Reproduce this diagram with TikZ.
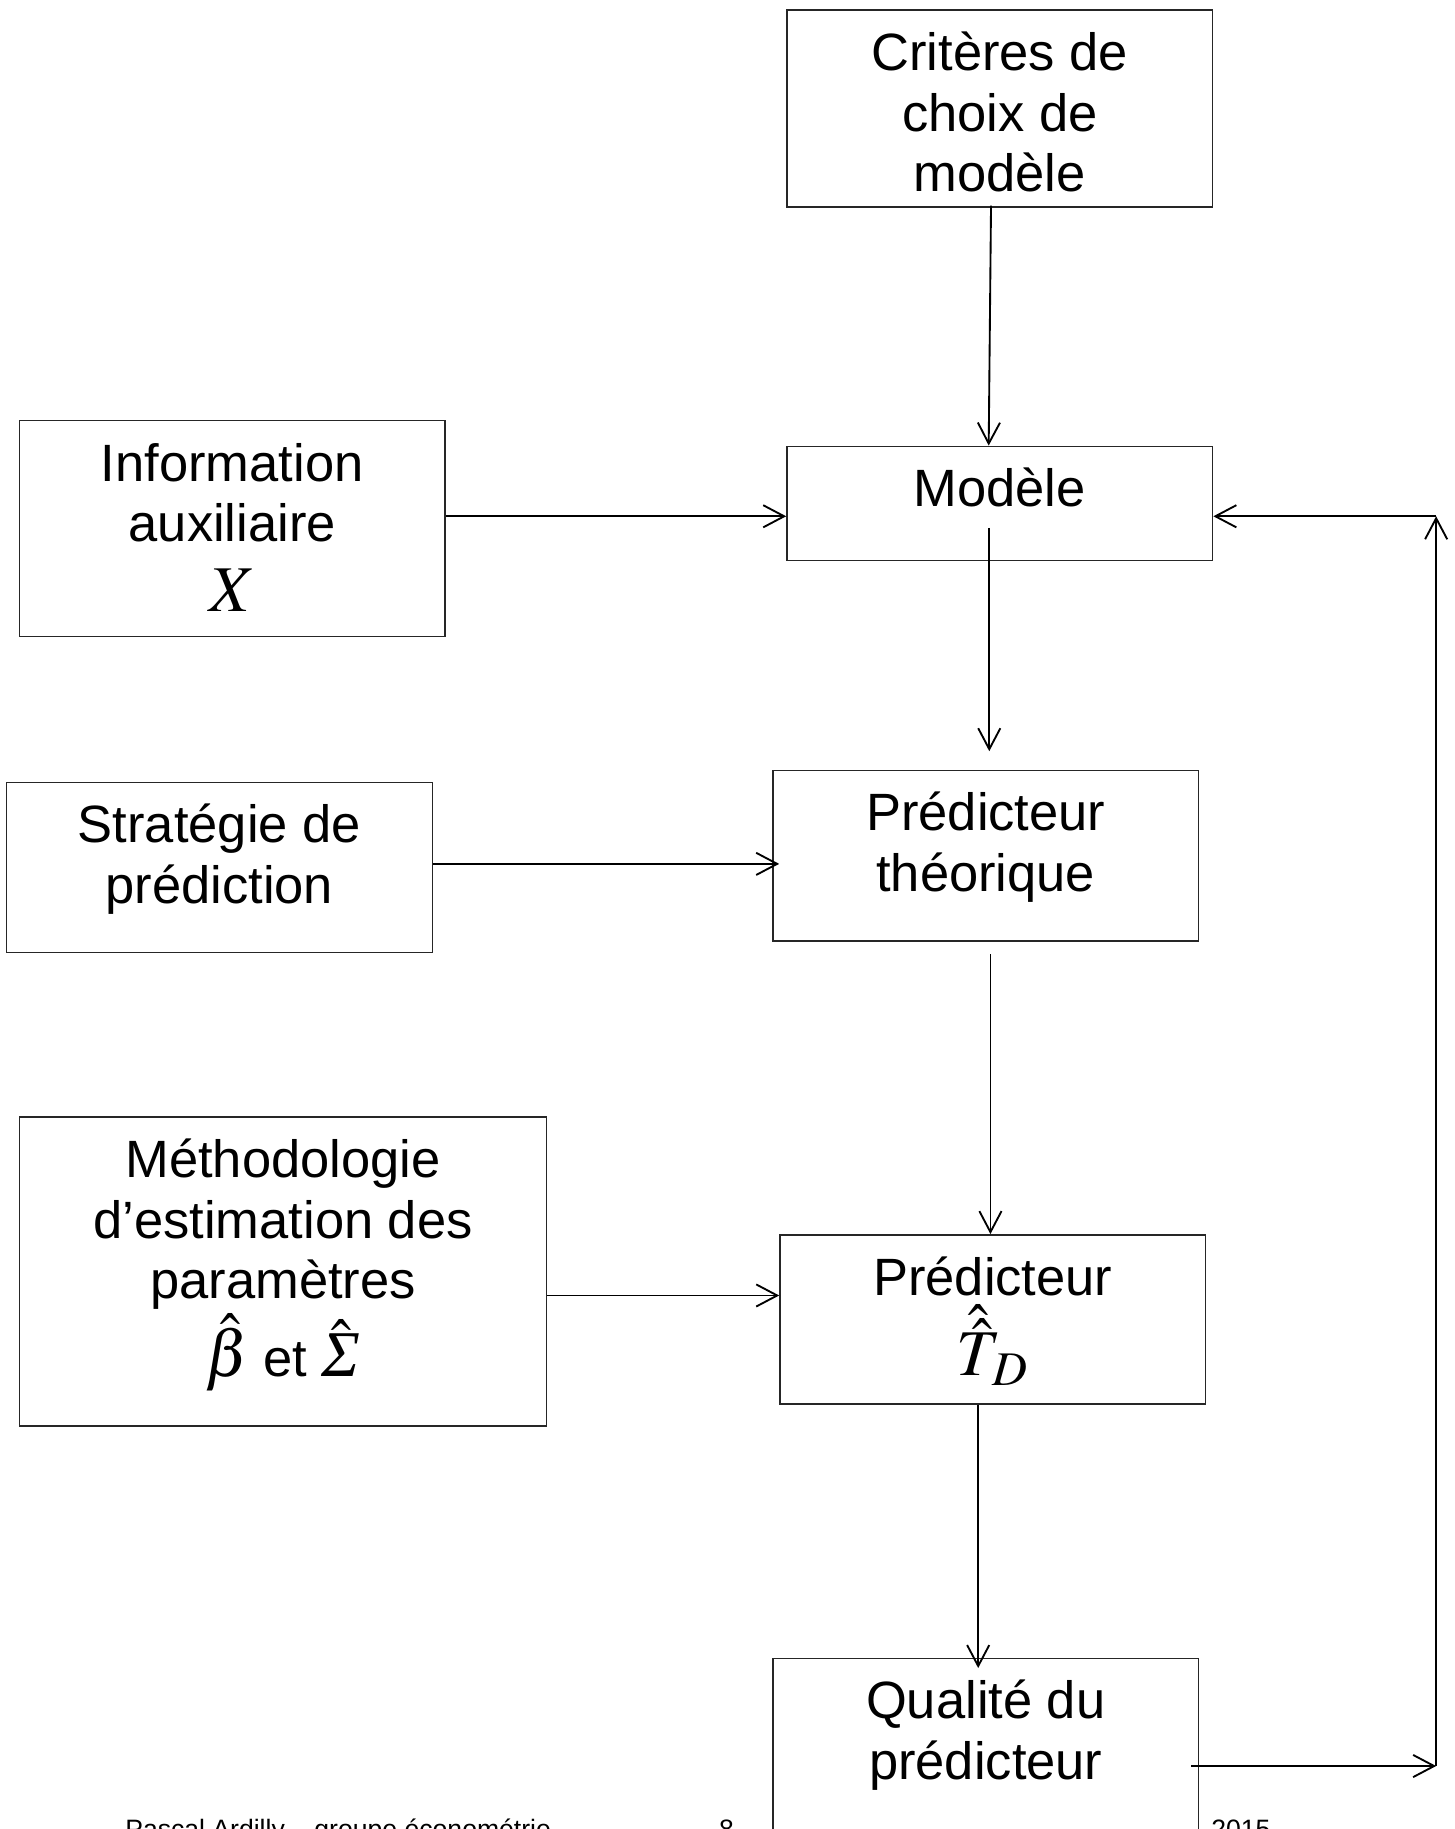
\documentclass[tikz,border=0pt]{standalone}
\usepackage{mathptmx}
\usepackage[no-math]{fontspec}
\setmainfont{Liberation Sans}
\newfontfamily\myserif{Liberation Serif}
\usetikzlibrary{arrows.meta,calc}
\newcommand\mybigmath[1]{{\fontsize{28}{30}\selectfont$#1$}}
\newcommand\mytxtfont{\fontsize{22.5}{26}\selectfont\lineskiplimit=-100pt\relax}
\newcommand\myfootfont{\fontsize{11.4}{13}\selectfont}
\begin{document}
\begin{tikzpicture}[x=0.5pt,y=-0.5pt,
  boxnode/.style={draw=black!85,line width=0.6pt,fill=white,rectangle,inner sep=0pt,anchor=north west},
  txt/.style={anchor=north,inner sep=0pt,align=center,font=\mytxtfont},
  arr/.style={line width=0.8pt,-{Straight Barb[length=9pt,width=9.5pt,line width=0.8pt]}},
  foot/.style={anchor=base west,inner sep=0pt,font=\myfootfont}]
\path[use as bounding box,fill=white] (0,0) rectangle (1247,1568);
% footer
\node[foot] (f1) at (107,1576) {Pascal Ardilly – groupe économétrie};
\node[foot] (f2) at (616,1576) {8};
\node[foot] (f3) at (1038,1576) {2015};
% boxes
\node[boxnode,minimum width=182.5pt,minimum height=84.5pt] (crit) at (674,8) {};
\node[boxnode,minimum width=182.5pt,minimum height=49pt] (model) at (674,382) {};
\node[boxnode,minimum width=182.5pt,minimum height=92.5pt] (info) at (16,360) {};
\node[boxnode,minimum width=182.5pt,minimum height=73pt] (ptheo) at (662,660) {};
\node[boxnode,minimum width=182.5pt,minimum height=73pt] (strat) at (5,670) {};
\node[boxnode,minimum width=226pt,minimum height=132.5pt] (meth) at (16,957) {};
\node[boxnode,minimum width=182.5pt,minimum height=72.5pt] (pred) at (668,1058) {};
\node[boxnode,minimum width=182.5pt,minimum height=100pt] (qual) at (662,1421) {};
% texts
\node[txt] (critT) at ([shift={(0,7)}]crit.north) {\rule{0pt}{22.5pt}Critères de\\choix de\\modèle};
\node[txt] (modelT) at ([shift={(0,7)}]model.north) {\rule{0pt}{22.5pt}Modèle};
\node[txt] (infoT) at ([shift={(0,7)}]info.north) {\rule{0pt}{22.5pt}Information\\auxiliaire\\[4pt]\mybigmath{X}};
\node[txt] (ptheoT) at ([shift={(0,7)}]ptheo.north) {\rule{0pt}{22.5pt}Prédicteur\\théorique};
\node[txt] (stratT) at ([shift={(0,7)}]strat.north) {\rule{0pt}{22.5pt}Stratégie de\\prédiction};
\node[txt] (methT) at ([shift={(0,7)}]meth.north) {\rule{0pt}{22.5pt}Méthodologie\\d’estimation des\\paramètres\\[7.5pt]\mybigmath{\hat{\beta}} et \mybigmath{\hat{\hbox{\myserif\itshape Σ}}}};
\node[txt] (predT) at ([shift={(0,7)}]pred.north) {\rule{0pt}{22.5pt}Prédicteur\\[8.5pt]\mybigmath{\hat{\hat{T}}_{\kern-3.5pt D}}};
\node[txt] (qualT) at ([shift={(0,7)}]qual.north) {\rule{0pt}{22.5pt}Qualité du\\prédicteur};
% connectors
\coordinate (a1s) at ([shift={(-7.5,-2)}]crit.south);
\coordinate (a1e) at ([shift={(-9.5,0)}]model.north);
\draw[arr] (a1s) -- (a1e);
\coordinate (a2s) at ([shift={(0,-10.5)}]info.east);
\draw[arr] (a2s) -- (a2s -| model.west);
\coordinate (a3s) at ([shift={(-9,21)}]model.center);
\coordinate (a3e) at ([shift={(3,-16)}]ptheo.north);
\draw[arr] (a3s) -- (a3e);
\coordinate (a4s) at ([shift={(0,-3)}]strat.east);
\coordinate (a4e) at ([shift={(6,7)}]ptheo.west);
\draw[arr] (a4s) -- (a4e);
\coordinate (a5s) at ([shift={(4,11)}]ptheo.south);
\coordinate (a5e) at ([shift={(-2,0)}]pred.north);
\draw[arr] (a5s) -- (a5e);
\coordinate (a6s) at ([shift={(0,20.5)}]meth.east);
\coordinate (a6e) at ([shift={(0,-20.5)}]pred.west);
\draw[arr] (a6s) -- (a6e);
\coordinate (a7s) at ([shift={(-12.5,0)}]pred.south);
\coordinate (a7e) at ([shift={(-6.5,9)}]qual.north);
\draw[arr] (a7s) -- (a7e);
\coordinate (a8s) at ([shift={(-7,93)}]qual.north east);
\coordinate (fbtop) at ([shift={(191,11)}]model.east);
\coordinate (fbbot) at (fbtop |- a8s);
\draw[arr] (a8s) -- (fbbot);
\draw[arr] (fbbot) -- (fbtop);
\draw[arr] (fbtop) -- (fbtop -| model.east);
\end{tikzpicture}
\end{document}
